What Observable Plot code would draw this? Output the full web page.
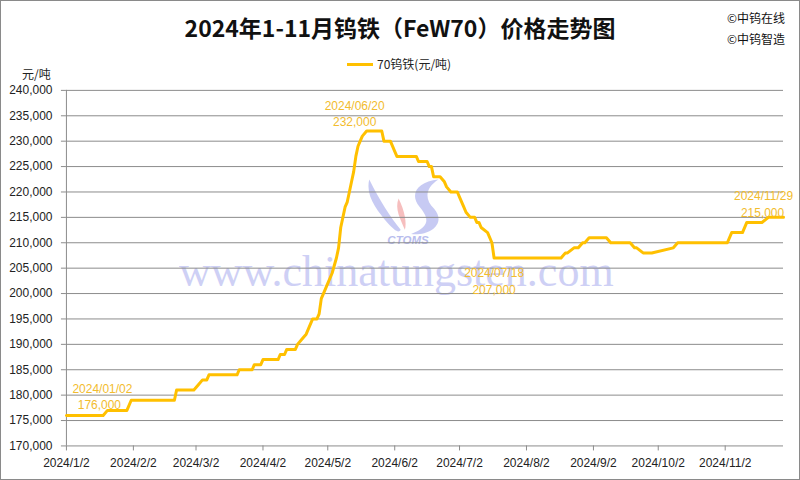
<!DOCTYPE html>
<html><head><meta charset="utf-8">
<script src="https://cdn.jsdelivr.net/npm/d3@7"></script>
<script src="https://cdn.jsdelivr.net/npm/@observablehq/plot@0.6"></script>
<style>
body{margin:0;background:#fff;}
#chart{position:relative;width:800px;height:480px;box-sizing:border-box;border:1px solid #8a8a8a;overflow:hidden;background:#fff;font-family:"Noto Sans CJK SC","Liberation Sans",sans-serif;}
#title{position:absolute;left:-1px;width:800px;top:11px;text-align:center;font-size:23px;font-weight:bold;color:#111;line-height:30px;white-space:nowrap;}
.copy{position:absolute;left:726px;font-size:12px;color:#111;line-height:16px;white-space:nowrap;}
#legend{position:absolute;left:346px;top:54px;font-size:12px;color:#222;line-height:18px;white-space:nowrap;display:flex;align-items:center;}
#legend .sw{display:inline-block;width:26px;height:3px;background:#FFC000;margin-right:4px;}
#unit{position:absolute;left:21px;top:64px;font-size:12px;color:#222;line-height:18px;}
#wm{position:absolute;left:178px;top:246px;font-family:"Liberation Serif",serif;font-size:44px;color:#9ea2ec;opacity:0.5;white-space:nowrap;line-height:50px;}
#logo{position:absolute;left:362px;top:174px;width:90px;height:74px;opacity:0.55;}
#plot{position:absolute;left:-1px;top:-1px;}
</style></head><body>
<div id="chart">
  <div id="wm">www.chinatungsten.com</div>
  <svg id="logo" viewBox="0 0 86 70">
    <path d="M6,4 C2,20 14,34 24,46 C30,52 34,56 36,52 C26,40 16,24 6,4 Z" fill="#9aa0ea"/>
    <path d="M34,22 C30,32 36,42 40,52 C42,46 40,34 34,22 Z" fill="#f08a8a"/>
    <path d="M72,4 C52,6 44,18 54,30 C62,40 66,48 46,56 C64,58 80,46 68,32 C58,22 60,12 72,4 Z" fill="#9aa0ea"/>
    <text x="43" y="66" text-anchor="middle" font-family="Liberation Sans, sans-serif" font-size="11" font-weight="bold" font-style="italic" fill="#7f88e0">CTOMS</text>
  </svg>
  <div id="plot"></div>
  <div id="title">2024年1-11月钨铁（FeW70）价格走势图</div>
  <div class="copy" style="top:9px">©中钨在线</div>
  <div class="copy" style="top:30px">©中钨智造</div>
  <div id="legend"><span class="sw"></span>70钨铁(元/吨)</div>
  <div id="unit">元/吨</div>
</div>
<script>
// ---- data ----
const dates = [
  "2024-01-02","2024-01-19","2024-01-21","2024-01-30","2024-02-01","2024-02-21","2024-02-22","2024-03-01",
  "2024-03-03","2024-03-05","2024-03-07","2024-03-08","2024-03-21","2024-03-22","2024-03-28","2024-03-29",
  "2024-04-01","2024-04-02","2024-04-09","2024-04-10","2024-04-12","2024-04-13","2024-04-17","2024-04-18",
  "2024-04-20","2024-04-22","2024-04-25","2024-04-27","2024-04-28","2024-04-29","2024-04-30","2024-05-02",
  "2024-05-04","2024-05-06","2024-05-07","2024-05-08","2024-05-09","2024-05-10","2024-05-11","2024-05-12",
  "2024-05-13","2024-05-14","2024-05-15","2024-05-16","2024-05-17","2024-05-18","2024-05-20","2024-05-27",
  "2024-05-28","2024-05-31","2024-06-02","2024-06-03","2024-06-12","2024-06-13","2024-06-17","2024-06-18",
  "2024-06-19","2024-06-20","2024-06-23","2024-06-25","2024-06-26","2024-06-28","2024-07-01","2024-07-02",
  "2024-07-03","2024-07-04","2024-07-05","2024-07-07","2024-07-09","2024-07-10","2024-07-11","2024-07-12",
  "2024-07-15","2024-07-17","2024-07-18","2024-08-18","2024-08-20","2024-08-21","2024-08-24","2024-08-26",
  "2024-08-28","2024-08-29","2024-08-31","2024-09-08","2024-09-10","2024-09-19","2024-09-21","2024-09-22",
  "2024-09-25","2024-09-29","2024-10-09","2024-10-11","2024-11-03","2024-11-05","2024-11-10","2024-11-12",
  "2024-11-19","2024-11-22","2024-11-29"
];
const prices = [
  176000,176000,177000,177000,179000,179000,181000,181000,
  182000,183000,183000,184000,184000,185000,185000,186000,
  186000,187000,187000,188000,188000,189000,189000,190000,
  191000,192000,195000,195000,196000,199000,200000,202000,
  204000,207000,209000,213000,215000,217000,218000,220000,
  222000,224000,227000,229000,230000,231000,232000,232000,
  230000,230000,228000,227000,227000,226000,226000,225000,
  225000,223000,223000,222000,221000,220000,220000,219000,
  218000,217000,216000,215000,215000,214000,214000,213000,
  212000,210000,207000,207000,208000,208000,209000,209000,
  210000,210000,211000,211000,210000,210000,209000,209000,
  208000,208000,209000,210000,210000,212000,212000,214000,
  214000,215000,215000
];
const xTickDates = ["2024-01-02","2024-02-02","2024-03-02","2024-04-02","2024-05-02","2024-06-02",
                    "2024-07-02","2024-08-02","2024-09-02","2024-10-02","2024-11-02"];
const yTickValues = [170000,175000,180000,185000,190000,195000,200000,205000,210000,215000,220000,225000,230000,235000,240000];
const annDates = ["2024-01-02","2024-05-20","2024-07-18","2024-11-29"];
const annDateLabels = ["2024/01/02","2024/06/20","2024/07/18","2024/11/29"];
const annValues = [176000,232000,207000,215000];
const annValueLabels = ["176,000","232,000","207,000","215,000"];

// ---- layout (label offsets in px) ----
const annOffsets = [
  {dxD:36, dyD:-26, dxV:33, dyV:-10},
  {dxD:-12, dyD:-25, dxV:-12, dyV:-9},
  {dxD:0, dyD:15, dxV:0, dyV:32},
  {dxD:-20, dyD:-21, dxV:-21, dyV:-4}
];

const toDate = s => new Date(s + "T00:00:00Z");
const series = dates.map((d, i) => ({date: toDate(d), price: prices[i]}));
const ann = annDates.map((d, i) => ({date: toDate(d), value: annValues[i], dl: annDateLabels[i], vl: annValueLabels[i]}));
const fmtDate = d => `${d.getUTCFullYear()}/${d.getUTCMonth() + 1}/${d.getUTCDate()}`;
const gold = "#FFC000", labelGold = "#F2BC2E", grid = "#8c8c8c";

const annMarks = ann.flatMap((a, i) => [
  Plot.text([a], {x: "date", y: "value", text: "dl", dx: annOffsets[i].dxD, dy: annOffsets[i].dyD, fill: labelGold, fontSize: 12}),
  Plot.text([a], {x: "date", y: "value", text: "vl", dx: annOffsets[i].dxV, dy: annOffsets[i].dyV, fill: labelGold, fontSize: 12})
]);

const chart = Plot.plot({
  width: 800, height: 480,
  marginTop: 90, marginBottom: 34, marginLeft: 66, marginRight: 16,
  style: {fontFamily: "'Liberation Sans', sans-serif", fontSize: "12px", background: "transparent", color: "#222"},
  x: {type: "utc", domain: [toDate("2024-01-02"), toDate("2024-11-29")]},
  y: {domain: [170000, 240000]},
  marks: [
    Plot.ruleY(yTickValues, {stroke: grid, strokeWidth: 1}),
    Plot.ruleX([toDate("2024-01-02")], {stroke: grid, strokeWidth: 1}),
    Plot.axisY({ticks: yTickValues, tickFormat: d3.format(","), tickSize: 5, tickPadding: 9, stroke: grid, fill: "#222", label: null}),
    Plot.axisX({ticks: xTickDates.map(toDate), tickFormat: fmtDate, tickSize: 5, tickPadding: 8, stroke: grid, fill: "#222", label: null}),
    Plot.line(series, {x: "date", y: "price", stroke: gold, strokeWidth: 3, strokeLinejoin: "round"}),
    ...annMarks
  ]
});
document.getElementById("plot").appendChild(chart);
</script>
</body></html>
